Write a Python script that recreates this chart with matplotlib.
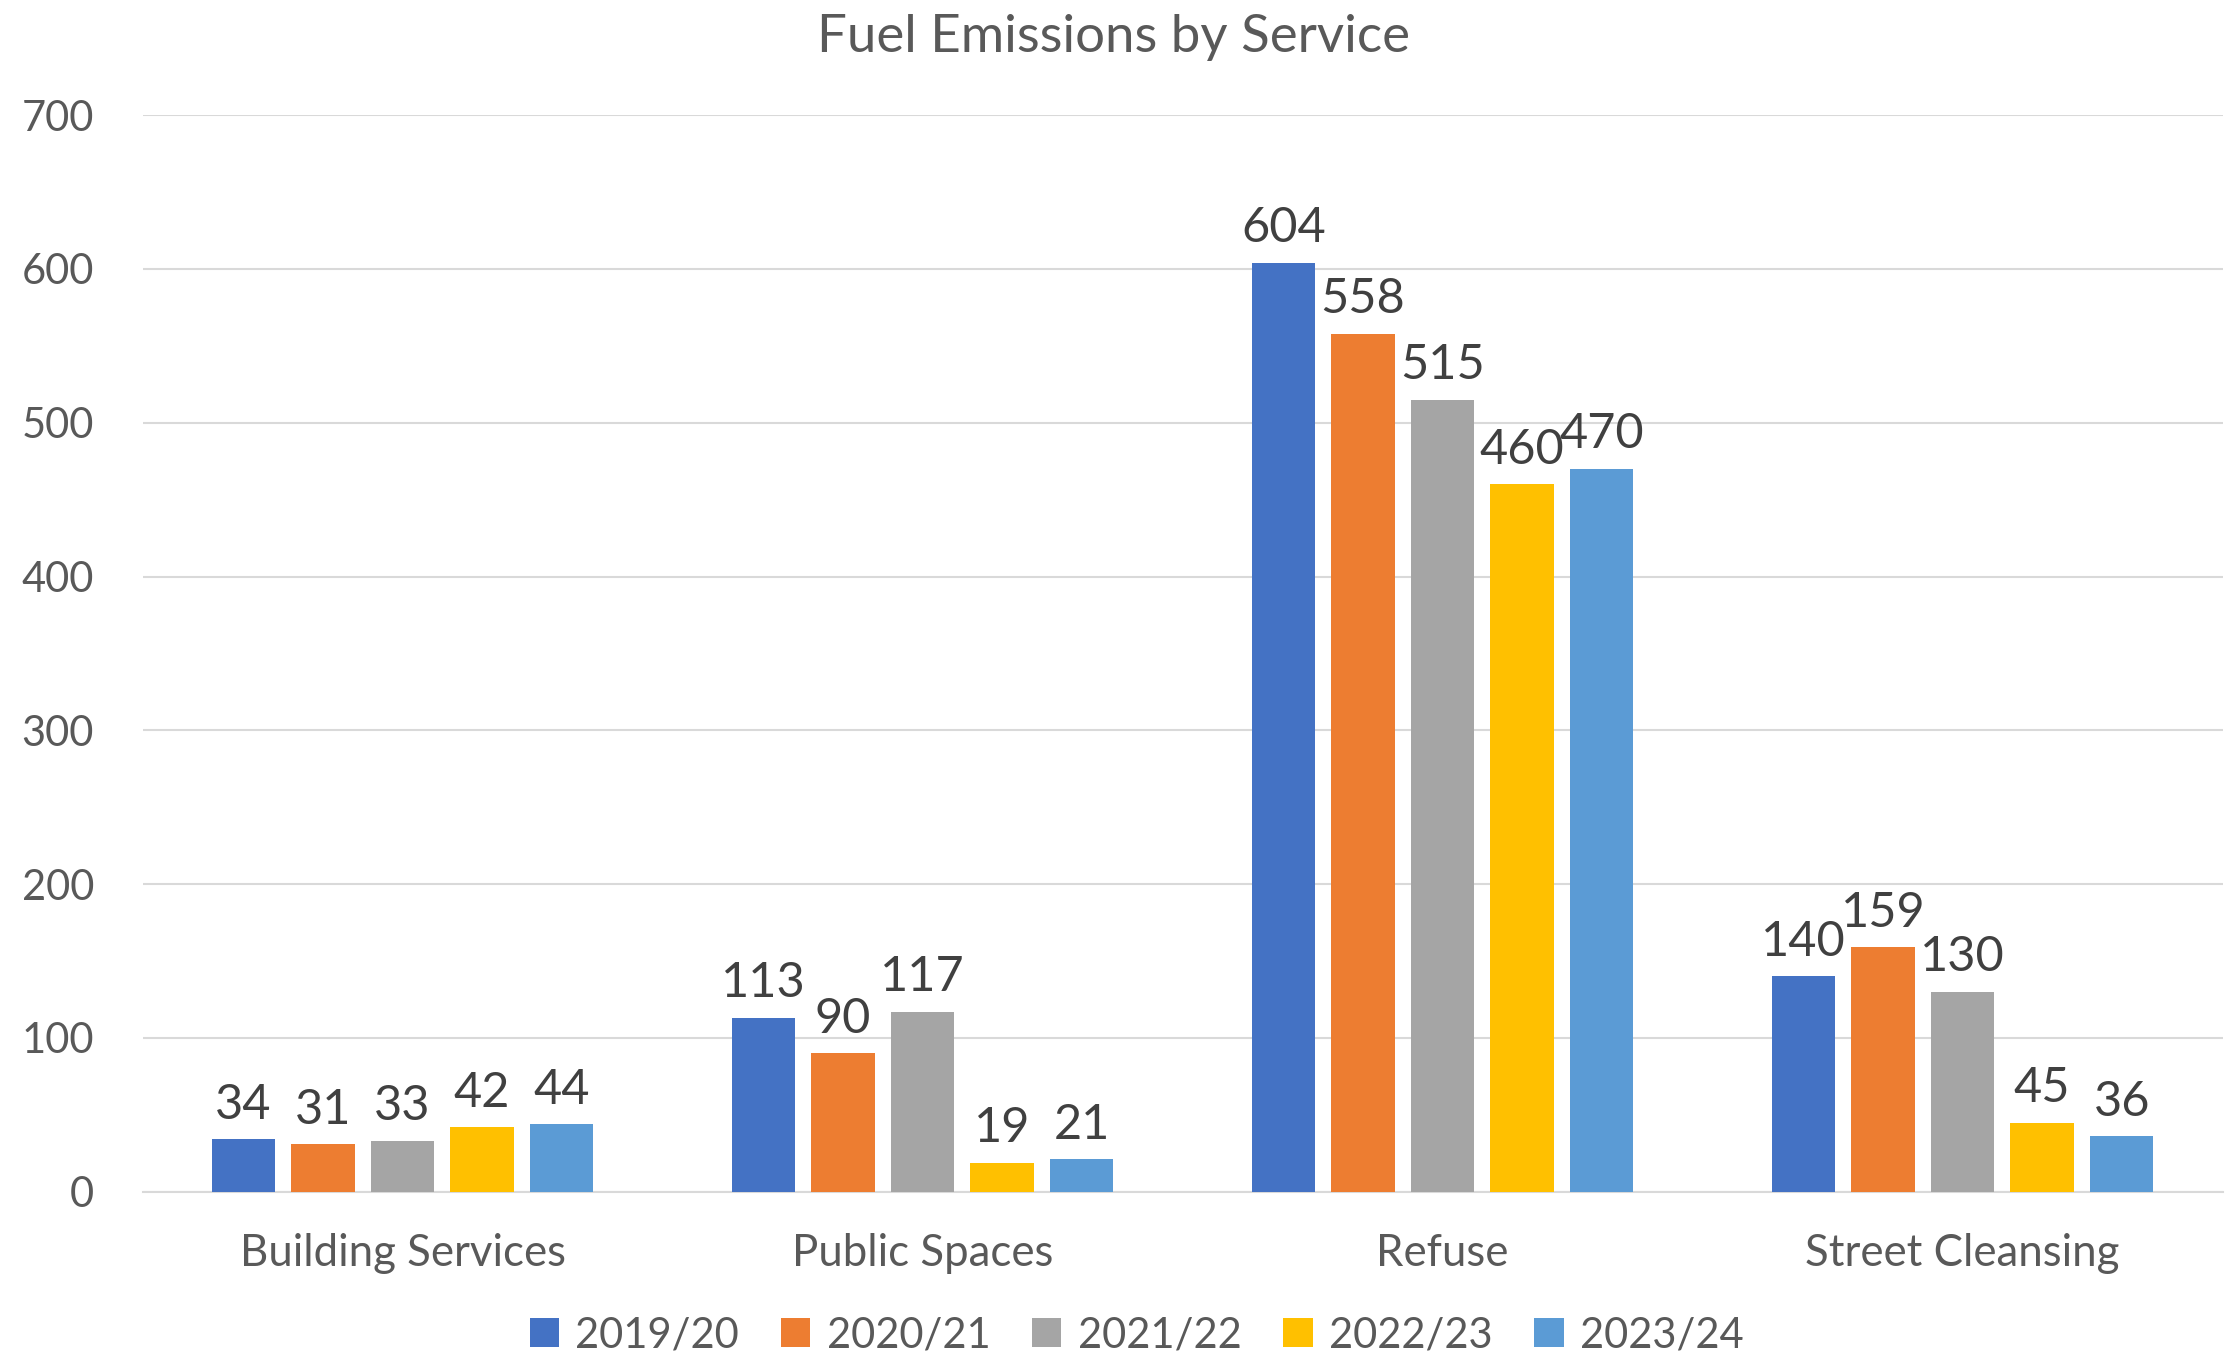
import numpy as np
import matplotlib
matplotlib.use("Agg")
import matplotlib.pyplot as plt

# ── Data ────────────────────────────────────────────────────────────
services = ["Building Services", "Public Spaces", "Refuse", "Street Cleansing"]
years = ["2019/20", "2020/21", "2021/22", "2022/23", "2023/24"]
v_2019 = [34, 113, 604, 140]
v_2020 = [31, 90, 558, 159]
v_2021 = [33, 117, 515, 130]
v_2022 = [42, 19, 460, 45]
v_2023 = [44, 21, 470, 36]
series = [v_2019, v_2020, v_2021, v_2022, v_2023]
colors = ["#4472C4", "#ED7D31", "#A5A5A5", "#FFC000", "#5B9BD5"]

plt.rcParams["font.family"] = ["Lato", "DejaVu Sans"]

fig = plt.figure(figsize=(22.27, 13.55), dpi=100)
ax = fig.add_axes([0.064, 0.1205, 0.934, 0.7945])

x = np.arange(len(services))
step = 0.153
width = 0.122
for i, (vals, col, lab) in enumerate(zip(series, colors, years)):
    pos = x + (i - 2) * step
    bars = ax.bar(pos, vals, width=width, color=col, label=lab, zorder=3)
    ax.bar_label(bars, labels=[str(v) for v in vals], padding=9,
                 fontsize=35, color="#404040")

ax.set_xlim(-0.5, 3.5)
ax.set_ylim(0, 700)
ax.set_yticks(range(0, 701, 100))
ax.set_xticks(x)
ax.set_xticklabels(services)
ax.tick_params(axis="both", length=0, colors="#595959")
ax.tick_params(axis="x", pad=30, labelsize=31.5)
ax.tick_params(axis="y", pad=35, labelsize=30)
ax.yaxis.grid(True, color="#D9D9D9", linewidth=1.5, zorder=0)
for s in ["left", "right", "top"]:
    ax.spines[s].set_visible(False)
ax.spines["bottom"].set_color("#D9D9D9")
ax.spines["bottom"].set_linewidth(1.5)

fig.suptitle("Fuel Emissions by Service", fontsize=38, color="#595959", y=0.99)

ax.legend(loc="upper center", bbox_to_anchor=(0.478, -0.108), ncol=5,
          frameon=False, fontsize=30, labelcolor="#595959",
          handlelength=0.7, handleheight=0.7, handletextpad=0.4,
          columnspacing=1.0, borderaxespad=0, borderpad=0.2)

fig.savefig("out.png", dpi=100)
